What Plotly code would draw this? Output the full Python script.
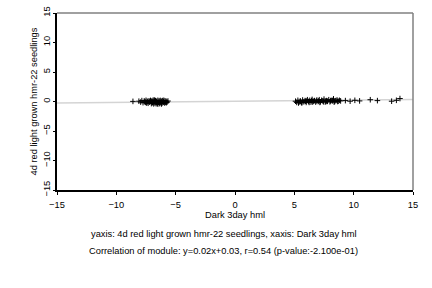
import plotly.graph_objects as go

# Left cluster (Dark 3day hml, 4d red light)
left_x = [-8.6, -8.1, -7.95, -7.85, -7.75, -7.65, -7.55, -7.5, -7.45, -7.4, -7.32, -7.25, -7.2, -7.12,
          -7.05, -7.0, -6.95, -6.9, -6.85, -6.8, -6.75, -6.7, -6.65, -6.6, -6.55, -6.5, -6.45, -6.4,
          -6.35, -6.3, -6.25, -6.2, -6.15, -6.1, -6.05, -6.0, -5.95, -5.9, -5.85, -5.8, -5.72, -5.65,
          -7.35, -7.15, -6.92, -6.62, -6.32, -6.02, -5.78, -7.6, -7.02, -6.5, -6.8, -6.2]
left_y = [0.02, 0.05, -0.1, 0.15, -0.2, 0.1, -0.15, 0.2, -0.25, 0.05, -0.3, 0.12, -0.1, 0.18,
          -0.35, 0.08, -0.2, 0.22, -0.4, 0.1, -0.25, 0.15, -0.38, 0.05, -0.3, 0.2, -0.15, 0.1,
          -0.35, 0.18, -0.2, 0.05, -0.3, 0.15, -0.1, 0.2, -0.25, 0.12, -0.15, 0.05, -0.1, 0.08,
          -0.05, 0.0, -0.12, -0.08, 0.0, -0.05, -0.2, -0.05, 0.0, -0.45, 0.25, -0.42]

# Right cluster
right_x = [5.1, 5.2, 5.3, 5.4, 5.5, 5.6, 5.7, 5.8, 5.9, 6.0, 6.1, 6.2, 6.3, 6.4, 6.5, 6.6, 6.7,
           6.8, 6.9, 7.0, 7.1, 7.2, 7.3, 7.4, 7.5, 7.6, 7.7, 7.8, 7.9, 8.0, 8.1, 8.2, 8.3, 8.4,
           8.5, 8.6, 8.7, 8.8, 8.9, 5.35, 5.65, 5.95, 6.25, 6.55, 6.85, 7.15, 7.45, 7.75, 8.05,
           8.35, 8.65, 5.5, 6.05, 6.45, 7.05, 7.65, 8.25,
           9.3, 9.7, 10.1, 10.5, 11.4, 12.0, 13.2, 13.6, 13.9]
right_y = [0.05, -0.15, 0.2, -0.1, 0.1, -0.2, 0.25, -0.05, 0.15, -0.15, 0.3, 0.0, 0.2, -0.1,
           0.35, 0.05, 0.15, -0.1, 0.25, 0.0, 0.3, -0.05, 0.2, 0.1, 0.4, -0.1, 0.15, 0.05, 0.3,
           -0.05, 0.2, 0.1, 0.45, 0.0, 0.15, 0.25, 0.05, 0.2, 0.1, -0.25, -0.2, 0.05, -0.15, -0.1,
           0.1, -0.15, -0.05, 0.0, 0.1, -0.1, 0.0, 0.0, 0.1, 0.15, 0.1, 0.05, 0.2,
           0.15, 0.05, 0.2, 0.1, 0.3, 0.15, 0.05, 0.2, 0.5]

slope = 0.02
intercept = 0.03
fit_x = [-15, 15]

x_ticks = [-15, -10, -5, 0, 5, 10, 15]
y_ticks = [-15, -10, -5, 0, 5, 10, 15]

x_title = "Dark 3day hml"
y_title = "4d red light grown hmr-22 seedlings"
caption1 = "yaxis: 4d red light grown hmr-22 seedlings, xaxis: Dark 3day hml"
caption2 = "Correlation of module: y=0.02x+0.03, r=0.54 (p-value:-2.100e-01)"

font = "Liberation Sans, Arial, sans-serif"
fs = 9.3

fig = go.Figure()
fig.add_trace(go.Scatter(
    x=fit_x, y=[slope * v + intercept for v in fit_x], mode="lines",
    line=dict(color="#d4d4d4", width=1.5), hoverinfo="skip", showlegend=False))
fig.add_trace(go.Scatter(
    x=left_x + right_x, y=left_y + right_y, mode="markers",
    marker=dict(symbol="cross-thin", size=4, line=dict(color="black", width=1), color="black"),
    showlegend=False))

fig.update_layout(
    width=432, height=288,
    margin=dict(l=57, r=19, t=13, b=98, autoexpand=False),
    paper_bgcolor="white", plot_bgcolor="white",
    font=dict(family=font, size=fs, color="black"),
    xaxis=dict(range=[-15, 15], tickvals=x_ticks, ticks="outside", ticklen=3, tickcolor="black",
               showline=True, linecolor="black", linewidth=1.5, showgrid=False, zeroline=False,
               automargin=False, ticklabelstandoff=2,
               title=dict(text=x_title, standoff=2, font=dict(size=fs)),
               tickfont=dict(size=fs)),
    yaxis=dict(range=[-15, 15], tickvals=y_ticks, ticks="outside", ticklen=2, tickcolor="black",
               showline=True, linecolor="black", linewidth=1.5, showgrid=False, zeroline=False,
               automargin=False,
               tickangle=-90, tickfont=dict(size=fs),
               title=dict(text=y_title, standoff=2, font=dict(size=fs))),
    shapes=[
        dict(type="line", xref="paper", yref="paper", x0=0, x1=1, y0=1, y1=1,
             line=dict(color="#808080", width=1.5)),
        dict(type="line", xref="paper", yref="paper", x0=1, x1=1, y0=0, y1=1,
             line=dict(color="#808080", width=1.5)),
    ],
    annotations=[
        dict(text=caption1, xref="paper", yref="paper", x=0.469, y=-0.21, yanchor="top",
             showarrow=False, font=dict(size=fs)),
        dict(text=caption2, xref="paper", yref="paper", x=0.469, y=-0.305, yanchor="top",
             showarrow=False, font=dict(size=fs)),
    ],
)

fig.write_html("out.html")
